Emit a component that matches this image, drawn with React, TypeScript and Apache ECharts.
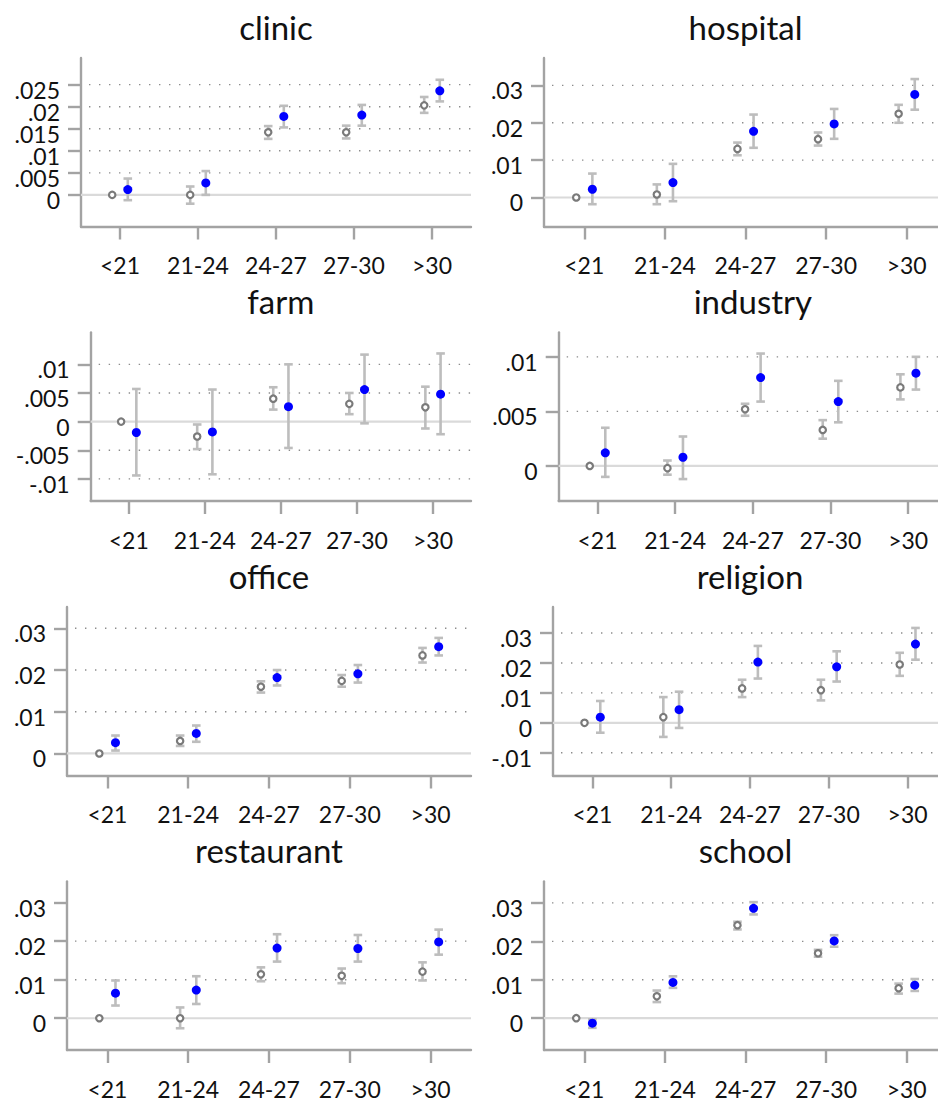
import React, { useEffect, useRef } from "react";
import * as echarts from "echarts";

// ---------- data ----------
const categories = ["<21", "21-24", "24-27", "27-30", ">30"];
const panelNames = ["clinic", "hospital", "farm", "industry", "office", "religion", "restaurant", "school"];

// each entry: [estimate, ciLow, ciHigh]; the first grey point is the reference (no CI)
type Triple = [number, number | null, number | null];

const clinicGrey: Triple[] = [[0, null, null], [0.0, -0.002, 0.0019], [0.0142, 0.0127, 0.0156], [0.0142, 0.0128, 0.0157], [0.0203, 0.0186, 0.0222]];
const clinicBlue: Triple[] = [[0.0012, -0.0012, 0.0037], [0.0027, 0.0, 0.0054], [0.0178, 0.0153, 0.0202], [0.0181, 0.0157, 0.0204], [0.0236, 0.0212, 0.0261]];

const hospitalGrey: Triple[] = [[0, null, null], [0.0008, -0.0018, 0.0035], [0.013, 0.0113, 0.0147], [0.0156, 0.0139, 0.0174], [0.0224, 0.02, 0.0248]];
const hospitalBlue: Triple[] = [[0.0022, -0.0018, 0.0064], [0.004, -0.001, 0.009], [0.0177, 0.0133, 0.0222], [0.0197, 0.0157, 0.0237], [0.0276, 0.0235, 0.0317]];

const farmGrey: Triple[] = [[0, null, null], [-0.0026, -0.0048, -0.0005], [0.004, 0.0021, 0.006], [0.0031, 0.0013, 0.005], [0.0025, -0.0012, 0.0061]];
const farmBlue: Triple[] = [[-0.0019, -0.0094, 0.0057], [-0.0018, -0.0092, 0.0056], [0.0026, -0.0046, 0.01], [0.0056, -0.0003, 0.0117], [0.0048, -0.0022, 0.0119]];

const industryGrey: Triple[] = [[0, null, null], [-0.0002, -0.0008, 0.0005], [0.0052, 0.0046, 0.0057], [0.0033, 0.0025, 0.0042], [0.0072, 0.0061, 0.0084]];
const industryBlue: Triple[] = [[0.0012, -0.001, 0.0035], [0.0008, -0.0012, 0.0027], [0.0081, 0.0059, 0.0103], [0.0059, 0.004, 0.0078], [0.0085, 0.007, 0.01]];

const officeGrey: Triple[] = [[0, null, null], [0.003, 0.0018, 0.0043], [0.016, 0.0146, 0.0173], [0.0174, 0.016, 0.0188], [0.0235, 0.0218, 0.0253]];
const officeBlue: Triple[] = [[0.0026, 0.0007, 0.0043], [0.0048, 0.0028, 0.0067], [0.0182, 0.0163, 0.02], [0.0191, 0.017, 0.0212], [0.0256, 0.0235, 0.0277]];

const religionGrey: Triple[] = [[0, null, null], [0.0019, -0.0047, 0.0086], [0.0115, 0.0086, 0.0144], [0.0109, 0.0075, 0.0144], [0.0195, 0.0157, 0.0234]];
const religionBlue: Triple[] = [[0.0019, -0.0033, 0.0073], [0.0044, -0.0017, 0.0104], [0.0203, 0.0148, 0.0257], [0.0187, 0.0138, 0.0239], [0.0263, 0.0211, 0.0317]];

const restaurantGrey: Triple[] = [[0, null, null], [0.0, -0.0026, 0.0028], [0.0114, 0.0096, 0.0132], [0.011, 0.0091, 0.0129], [0.0121, 0.0098, 0.0145]];
const restaurantBlue: Triple[] = [[0.0065, 0.0033, 0.0098], [0.0073, 0.0037, 0.0109], [0.0182, 0.0147, 0.0218], [0.0181, 0.0147, 0.0216], [0.0198, 0.0165, 0.023]];

const schoolGrey: Triple[] = [[0, null, null], [0.0057, 0.0042, 0.0072], [0.0242, 0.0231, 0.0251], [0.0169, 0.016, 0.0178], [0.0078, 0.0064, 0.009]];
const schoolBlue: Triple[] = [[-0.0013, -0.0025, -0.0003], [0.0093, 0.0079, 0.0109], [0.0286, 0.027, 0.0302], [0.0201, 0.0186, 0.0216], [0.0086, 0.0071, 0.0102]];

const greyData = [clinicGrey, hospitalGrey, farmGrey, industryGrey, officeGrey, religionGrey, restaurantGrey, schoolGrey];
const blueData = [clinicBlue, hospitalBlue, farmBlue, industryBlue, officeBlue, religionBlue, restaurantBlue, schoolBlue];

// y-axis tick values and dotted grid values for each panel
const yTicks = [
  [0, 0.005, 0.01, 0.015, 0.02, 0.025],
  [0, 0.01, 0.02, 0.03],
  [-0.01, -0.005, 0, 0.005, 0.01],
  [0, 0.005, 0.01],
  [0, 0.01, 0.02, 0.03],
  [-0.01, 0, 0.01, 0.02, 0.03],
  [0, 0.01, 0.02, 0.03],
  [0, 0.01, 0.02, 0.03],
];
const yGrid = [
  [0.005, 0.01, 0.015, 0.02, 0.025],
  [0.01, 0.02, 0.03],
  [-0.01, -0.005, 0.005, 0.01],
  [0.005, 0.01],
  [0.01, 0.02, 0.03],
  [-0.01, 0.01, 0.02, 0.03],
  [0.01, 0.02],
  [0.01, 0.02, 0.03],
];
const yMin = [-0.00717, -0.00777, -0.01386, -0.00321, -0.00528, -0.01759, -0.00824, -0.00827];
const yMax = [0.03104, 0.03734, 0.01556, 0.01223, 0.03511, 0.0387, 0.03548, 0.03557];

// ---------- layout / style ----------
const gridLeft = [81, 544, 90.7, 558.7, 67, 553, 67, 544];
const rowTop = [58, 332.5, 607, 881.5];
const colRight = [471, 947];
const gridHeight = 168.5;
const titleY = [26.5, 301, 575.5, 850];

const FONT = "Lato, 'Noto Sans', sans-serif";
const AXIS_COLOR = "#a3a3a3";
const CI_COLOR = "#bdbdbd";
const OFFSET = 0.1;
const Y_LABEL_GAP = 21;
const Y_LABEL_SHIFT = 5;

const fmtY = (v: number) => {
  if (Math.abs(v) < 1e-12) return "0";
  return String(+v.toFixed(4)).replace("0.", ".");
};

function buildOption() {
  const grid: any[] = [];
  const xAxis: any[] = [];
  const yAxis: any[] = [];
  const series: any[] = [];
  const graphic: any[] = [];

  panelNames.forEach((name, i) => {
    const row = Math.floor(i / 2);
    const col = i % 2;
    const left = gridLeft[i];
    const right = colRight[col];
    grid.push({
      left,
      top: rowTop[row],
      width: right - left,
      height: gridHeight,
      containLabel: false,
      outerBoundsMode: "none",
    });
    xAxis.push({
      type: "value",
      gridIndex: i,
      min: -0.5,
      max: 4.5,
      axisLine: { show: true, onZero: false, lineStyle: { color: AXIS_COLOR, width: 2.4 } },
      axisTick: { show: true, length: 13, customValues: [0, 1, 2, 3, 4], lineStyle: { color: AXIS_COLOR, width: 2.4 } },
      axisLabel: {
        customValues: [0, 1, 2, 3, 4],
        formatter: (v: number) => categories[Math.round(v)] ?? "",
        fontSize: 23,
        fontFamily: FONT,
        color: "#111",
        margin: 27,
        hideOverlap: false,
        showMinLabel: true,
        showMaxLabel: true,
      },
      splitLine: { show: false },
    });
    yAxis.push({
      type: "value",
      gridIndex: i,
      min: yMin[i],
      max: yMax[i],
      axisLine: { show: true, onZero: false, lineStyle: { color: AXIS_COLOR, width: 2.4 } },
      axisTick: { show: true, length: 13, customValues: yTicks[i], lineStyle: { color: AXIS_COLOR, width: 2.4 } },
      axisLabel: { show: false },
      splitLine: { show: false },
    });

    // y tick labels (drawn as texts so that none of the dense clinic labels is dropped)
    series.push({
      type: "custom",
      xAxisIndex: i,
      yAxisIndex: i,
      silent: true,
      clip: false,
      z: 5,
      data: yTicks[i].map((v) => [-0.5, v]),
      renderItem: (_p: any, api: any) => {
        const v = api.value(1);
        const p = api.coord([-0.5, v]);
        return {
          type: "text",
          x: p[0] - Y_LABEL_GAP,
          y: p[1] + Y_LABEL_SHIFT,
          style: {
            text: fmtY(v),
            fontSize: 23,
            fontFamily: FONT,
            fill: "#111",
            align: "right",
            verticalAlign: "middle",
          },
        };
      },
    });

    // dotted grid lines
    series.push({
      type: "custom",
      xAxisIndex: i,
      yAxisIndex: i,
      silent: true,
      z: 1,
      data: yGrid[i].map((v) => [0, v]),
      renderItem: (_p: any, api: any) => {
        const v = api.value(1);
        const a = api.coord([-0.5, v]);
        const b = api.coord([4.5, v]);
        return {
          type: "line",
          shape: { x1: a[0] + 8, y1: a[1], x2: b[0], y2: b[1] },
          style: { stroke: "#8c8c8c", lineWidth: 1.4, lineDash: [1.4, 8.6] },
        };
      },
    });
    // zero line
    series.push({
      type: "custom",
      xAxisIndex: i,
      yAxisIndex: i,
      silent: true,
      z: 1,
      data: [[0, 0]],
      renderItem: (_p: any, api: any) => {
        const v = api.value(1);
        const a = api.coord([-0.5, v]);
        const b = api.coord([4.5, v]);
        return {
          type: "line",
          shape: { x1: a[0], y1: a[1], x2: b[0], y2: b[1] },
          style: { stroke: "#dadada", lineWidth: 2.2 },
        };
      },
    });

    const ciRender = (_p: any, api: any) => {
      const x = api.value(0);
      const p1 = api.coord([x, api.value(1)]);
      const p2 = api.coord([x, api.value(2)]);
      const w = 4.3;
      const style = { stroke: CI_COLOR, lineWidth: 2.6 };
      return {
        type: "group",
        children: [
          { type: "line", shape: { x1: p1[0], y1: p1[1], x2: p2[0], y2: p2[1] }, style },
          { type: "line", shape: { x1: p1[0] - w, y1: p1[1], x2: p1[0] + w, y2: p1[1] }, style },
          { type: "line", shape: { x1: p2[0] - w, y1: p2[1], x2: p2[0] + w, y2: p2[1] }, style },
        ],
      };
    };

    const greyCI = greyData[i]
      .map((d, k) => [k - OFFSET, d[1], d[2]])
      .filter((d) => d[1] !== null && d[2] !== null);
    const blueCI = blueData[i]
      .map((d, k) => [k + OFFSET, d[1], d[2]])
      .filter((d) => d[1] !== null && d[2] !== null);

    series.push({
      type: "custom",
      xAxisIndex: i,
      yAxisIndex: i,
      silent: true,
      z: 2,
      encode: { x: 0, y: [1, 2] },
      data: greyCI,
      renderItem: ciRender,
    });
    series.push({
      type: "custom",
      xAxisIndex: i,
      yAxisIndex: i,
      silent: true,
      z: 2,
      encode: { x: 0, y: [1, 2] },
      data: blueCI,
      renderItem: ciRender,
    });
    series.push({
      type: "scatter",
      xAxisIndex: i,
      yAxisIndex: i,
      z: 3,
      symbol: "circle",
      symbolSize: 6.4,
      itemStyle: { color: "#ffffff", borderColor: "#7a7a7a", borderWidth: 2.2, opacity: 1 },
      data: greyData[i].map((d, k) => [k - OFFSET, d[0]]),
    });
    series.push({
      type: "scatter",
      xAxisIndex: i,
      yAxisIndex: i,
      z: 4,
      symbol: "circle",
      symbolSize: 9,
      itemStyle: { color: "#0000ff", opacity: 1 },
      data: blueData[i].map((d, k) => [k + OFFSET, d[0]]),
    });

    graphic.push({
      type: "text",
      x: (left + right) / 2,
      y: titleY[row],
      silent: true,
      style: {
        text: name,
        fontSize: 33,
        fontFamily: FONT,
        fill: "#111",
        align: "center",
        verticalAlign: "middle",
      },
    });
  });

  return { animation: false, backgroundColor: "#ffffff", grid, xAxis, yAxis, series, graphic };
}

export default function App() {
  const ref = useRef<HTMLDivElement>(null);
  useEffect(() => {
    document.body.style.margin = "0";
    if (!ref.current) return;
    const chart = echarts.init(ref.current, null, { renderer: "svg" });
    chart.setOption(buildOption() as any);
    return () => chart.dispose();
  }, []);
  return <div ref={ref} style={{ position: "absolute", left: 0, top: 0, width: 938, height: 1104, background: "#fff" }} />;
}
